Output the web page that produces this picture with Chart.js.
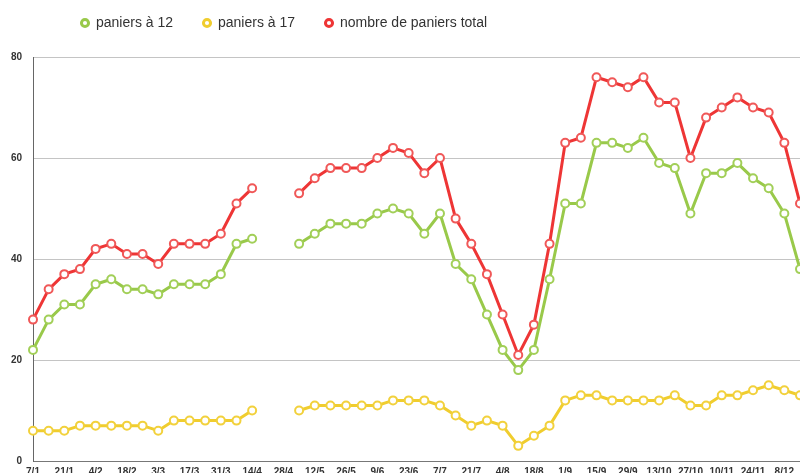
<!DOCTYPE html>
<html>
<head>
<meta charset="utf-8">
<script src="https://cdn.jsdelivr.net/npm/chart.js@4.4.0/dist/chart.umd.min.js"></script>
<style>
  html, body { margin: 0; padding: 0; background: #fff; overflow: hidden; }
  #wrap { width: 800px; height: 473px; }
</style>
</head>
<body>
<div id="wrap"><canvas id="paniersChart"></canvas></div>
<script>
// weekly distributions, gap on 21/4 and 28/4
const weeks = ['7/1', '14/1', '21/1', '28/1', '4/2', '11/2', '18/2', '25/2', '3/3', '10/3',
  '17/3', '24/3', '31/3', '7/4', '14/4', '21/4', '28/4', '5/5', '12/5', '19/5',
  '26/5', '2/6', '9/6', '16/6', '23/6', '30/6', '7/7', '14/7', '21/7', '28/7',
  '4/8', '11/8', '18/8', '25/8', '1/9', '8/9', '15/9', '22/9', '29/9', '6/10',
  '13/10', '20/10', '27/10', '3/11', '10/11', '17/11', '24/11', '1/12', '8/12', '15/12'];

const paniers12 = [22, 28, 31, 31, 35, 36, 34, 34, 33, 35, 35, 35, 37, 43, 44, null, null,
  43, 45, 47, 47, 47, 49, 50, 49, 45, 49, 39, 36, 29, 22, 18, 22, 36, 51, 51,
  63, 63, 62, 64, 59, 58, 49, 57, 57, 59, 56, 54, 49, 38];
const paniers17 = [6, 6, 6, 7, 7, 7, 7, 7, 6, 8, 8, 8, 8, 8, 10, null, null,
  10, 11, 11, 11, 11, 11, 12, 12, 12, 11, 9, 7, 8, 7, 3, 5, 7, 12, 13,
  13, 12, 12, 12, 12, 13, 11, 11, 13, 13, 14, 15, 14, 13];
const paniersTotal = [28, 34, 37, 38, 42, 43, 41, 41, 39, 43, 43, 43, 45, 51, 54, null, null,
  53, 56, 58, 58, 58, 60, 62, 61, 57, 60, 48, 43, 37, 29, 21, 27, 43, 63, 64,
  76, 75, 74, 76, 71, 71, 60, 68, 70, 72, 70, 69, 63, 51];
const yTicks = [0, 20, 40, 60, 80];

const legendFont = { family: "'Liberation Sans', Arial, sans-serif", size: 14 };

// spacing so the legend markers land 122px apart starting at x=81
const meas = document.createElement('canvas').getContext('2d');
meas.font = legendFont.size + 'px ' + legendFont.family;
const firstW = meas.measureText('paniers à 12').width;
const legendGap = Math.max(122 - 8 - legendFont.size / 2 - firstW, 10);
const topPad = 23 - legendGap - legendFont.size / 2; // legend row centred on y=23

function serie(label, data, color, pointColor) {
  return {
    label: label,
    data: data,
    borderColor: color,
    backgroundColor: '#fff',
    borderWidth: 3,
    pointRadius: 4,
    pointHoverRadius: 4,
    pointBorderWidth: 2,
    pointBorderColor: pointColor,
    pointBackgroundColor: '#fff',
    spanGaps: false,
    tension: 0
  };
}

const legendPlace = {
  id: 'legendPlace',
  beforeInit(chart) {
    const fit = chart.legend.fit;
    chart.legend.fit = function () {
      fit.call(this);
      this.height = 57 - topPad; // plot top at y=57
    };
  },
  afterLayout(chart) {
    chart.legend.left = 81 - legendGap;
  }
};

const ctx = document.getElementById('paniersChart');
new Chart(ctx, {
  type: 'line',
  data: {
    labels: weeks,
    datasets: [
      serie('paniers à 12', paniers12, '#99c94a', '#a2cf58'),
      serie('paniers à 17', paniers17, '#f0cd2e', '#f2d13c'),
      serie('nombre de paniers total', paniersTotal, '#ee3535', '#f05858')
    ]
  },
  plugins: [legendPlace],
  options: {
    responsive: true,
    maintainAspectRatio: false,
    animation: false,
    layout: { autoPadding: false, padding: { top: topPad, left: 0, right: 0, bottom: 0 } },
    plugins: {
      legend: {
        position: 'top',
        align: 'start',
        labels: {
          usePointStyle: true,
          pointStyle: 'circle',
          boxWidth: 8,
          boxHeight: 5,
          padding: legendGap,
          color: '#333',
          font: legendFont,
          generateLabels(chart) {
            return chart.data.datasets.map((ds, i) => ({
              text: ds.label,
              datasetIndex: i,
              fillStyle: '#fff',
              strokeStyle: ds.borderColor,
              lineWidth: 3,
              pointStyle: 'circle',
              fontColor: '#333',
              hidden: false
            }));
          }
        }
      },
      tooltip: { enabled: false }
    },
    scales: {
      x: {
        offset: false,
        afterFit(scale) {
          scale.height = 12; // plot bottom at y=461
          scale.paddingRight = 0;
        },
        grid: { display: false, drawTicks: false },
        border: { color: '#777', width: 1 },
        ticks: {
          autoSkip: false,
          maxRotation: 0,
          padding: 5,
          color: '#333',
          font: { family: "'Liberation Sans', Arial, sans-serif", size: 10, weight: 'bold' },
          callback(value, index) { return index % 2 === 0 ? weeks[index] : ''; }
        }
      },
      y: {
        min: 0,
        max: 80,
        afterFit(scale) {
          scale.width = 33;
          scale.paddingBottom = 0;
        },
        afterBuildTicks(scale) { scale.ticks = yTicks.map(v => ({ value: v })); },
        grid: { color: '#c4c4c4', drawTicks: false },
        border: { color: '#666', width: 1 },
        ticks: {
          padding: 11,
          color: '#333',
          font: { family: "'Liberation Sans', Arial, sans-serif", size: 10, weight: 'bold' }
        }
      }
    }
  }
});
</script>
</body>
</html>
